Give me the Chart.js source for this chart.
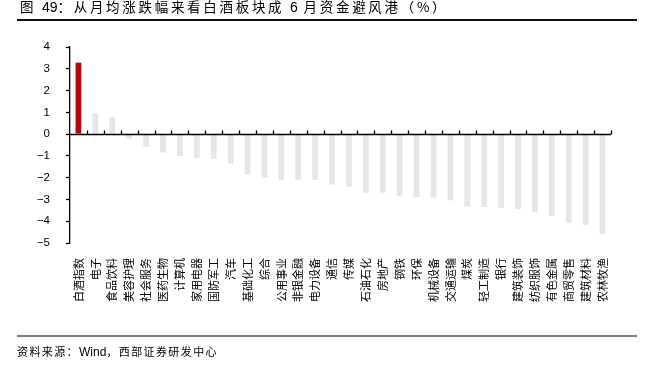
<!DOCTYPE html>
<html>
<head>
<meta charset="utf-8">
<script src="https://cdn.jsdelivr.net/npm/chart.js@4"></script>
<style>
  html, body { margin: 0; padding: 0; background: #fff; }
  #wrap { position: relative; width: 645px; height: 367px; overflow: hidden; }
  #chart { position: absolute; left: 0; top: 0; }
  .title {
    position: absolute; left: 20px; top: -4px; white-space: nowrap;
    font: 13.5px "Noto Sans CJK SC", sans-serif; letter-spacing: 2.7px; color: #000;
  }
  .title .n { letter-spacing: 0; font-family: "Liberation Sans", Arial, sans-serif; font-size: 14px; }
  .rule-top { position: absolute; left: 17px; top: 19px; width: 620px; height: 1.5px; background: #111; }
  .rule-bot { position: absolute; left: 17px; top: 335px; width: 620px; height: 2px; background: #808080; }
  .source {
    position: absolute; left: 17px; top: 343px; white-space: nowrap;
    font: 11px "Noto Sans CJK SC", sans-serif; letter-spacing: 1.4px; color: #000;
  }
  .source .n { letter-spacing: 0; font-family: "Liberation Sans", Arial, sans-serif; font-size: 12px; }
</style>
</head>
<body>
<div id="wrap">
  <canvas id="chart" width="645" height="367"></canvas>
  <div class="title">图 <span class="n">49</span>：从月均涨跌幅来看白酒板块成 <span class="n">6</span> 月资金避风港（%）</div>
  <div class="rule-top"></div>
  <div class="rule-bot"></div>
  <div class="source">资料来源：<span class="n">Wind</span>，西部证券研发中心</div>
</div>
<script>
// ─── Data ────────────────────────────────────────────────────────────────────

const sectors = [
  "白酒指数", "电子", "食品饮料", "美容护理", "社会服务", "医药生物", "计算机", "家用电器",
  "国防军工", "汽车", "基础化工", "综合", "公用事业", "非银金融", "电力设备", "通信",
  "传媒", "石油石化", "房地产", "钢铁", "环保", "机械设备", "交通运输", "煤炭",
  "轻工制造", "银行", "建筑装饰", "纺织服饰", "有色金属", "商贸零售", "建筑材料", "农林牧渔"
];

const monthlyChange = [
  3.28, 0.95, 0.79, -0.21, -0.58, -0.84, -1.01, -1.10,
  -1.13, -1.35, -1.85, -2.00, -2.10, -2.10, -2.11, -2.31,
  -2.42, -2.69, -2.69, -2.86, -2.89, -2.92, -3.04, -3.33,
  -3.35, -3.39, -3.44, -3.59, -3.75, -4.07, -4.17, -4.59
];

const yTicks = [4, 3, 2, 1, 0, -1, -2, -3, -4, -5];

// ─── Colors ──────────────────────────────────────────────────────────────────

const RED  = "#c00000";
const GRAY = "#e6e6e6";
const AXIS = "#000000";

// zero line + upward tick marks at category borders
const zeroAxis = {
  id: "zeroAxis",
  afterDatasetsDraw(chart) {
    const { ctx, scales: { x, y } } = chart;
    const y0 = Math.round(y.getPixelForValue(0)) + 0.5;
    const n = sectors.length;
    ctx.save();
    ctx.strokeStyle = AXIS;
    ctx.lineWidth = 1.3;
    ctx.beginPath();
    ctx.moveTo(x.left, y0);
    ctx.lineTo(x.right, y0);
    for (let i = 1; i <= n; i++) {
      const px = Math.round(x.left + i * x.width / n) + 0.5;
      ctx.moveTo(px, y0);
      ctx.lineTo(px, y0 - 4);
    }
    ctx.stroke();
    ctx.restore();
  }
};

new Chart(document.getElementById("chart"), {
  type: "bar",
  data: {
    labels: sectors,
    datasets: [{
      data: monthlyChange,
      backgroundColor: sectors.map((s, i) => i === 0 ? RED : GRAY),
      borderWidth: 0,
      barPercentage: 0.34,
      categoryPercentage: 1
    }]
  },
  options: {
    responsive: false,
    animation: false,
    layout: { padding: { left: 0, right: 34, top: 47, bottom: 0 } },
    plugins: { legend: { display: false }, tooltip: { enabled: false } },
    scales: {
      x: {
        grid: { display: false, drawTicks: false },
        border: { display: false },
        ticks: {
          autoSkip: false,
          minRotation: 90,
          maxRotation: 90,
          padding: 15,
          color: "#000",
          font: { family: "'Noto Sans CJK SC'", size: 11 }
        },
        afterFit: s => { s.height = 124; }
      },
      y: {
        min: -5,
        max: 4,
        afterBuildTicks: s => { s.ticks = yTicks.map(v => ({ value: v })); },
        ticks: {
          padding: 16,
          color: "#000",
          font: { family: "'Liberation Sans'", size: 11.5 },
          callback: v => v < 0 ? "\u2212" + Math.abs(v) : String(v)
        },
        grid: {
          drawOnChartArea: false,
          tickLength: 4,
          tickColor: AXIS,
          tickWidth: 1.3
        },
        border: { display: true, color: AXIS, width: 1.3 },
        afterFit: s => { s.width = 70; }
      }
    }
  },
  plugins: [zeroAxis]
});
</script>
</body>
</html>
